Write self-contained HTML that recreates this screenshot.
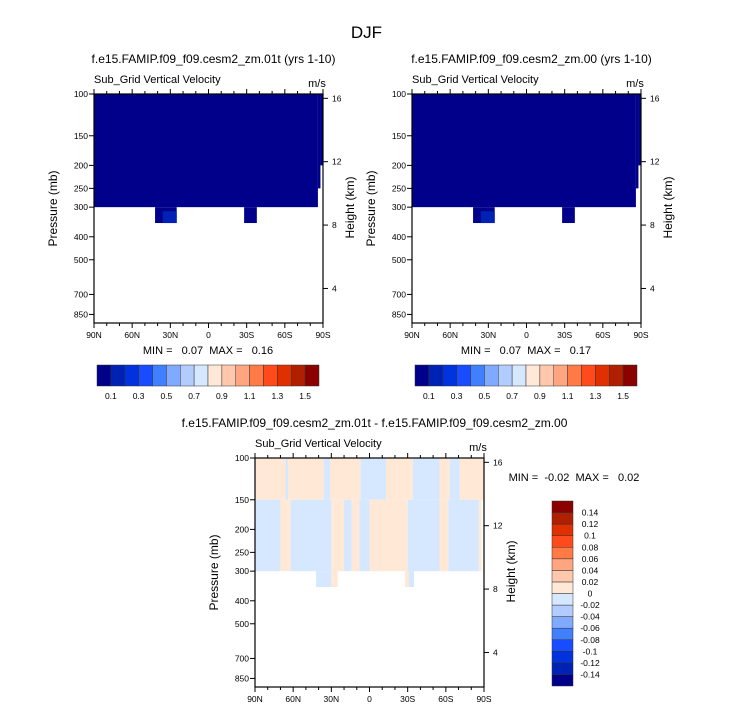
<!DOCTYPE html>
<html><head><meta charset="utf-8"><style>
html,body{margin:0;padding:0;background:#fff;}
svg{display:block;font-family:"Liberation Sans",sans-serif;}
svg text{white-space:pre;}
</style></head><body>
<svg id="fig" width="733" height="712" viewBox="0 0 733 712"></svg>
<script>
// ---- data ----
const latTicks = [90,60,30,0,-30,-60,-90];
const latLabels = ["90N","60N","30N","0","30S","60S","90S"];
const presTicks = [100,150,200,250,300,400,500,700,850];
const heightTicks = [16,12,8,4];
const cbColors = ["#00008b","#0022b4","#0033dd","#1a4cff","#4080ff","#80aaff","#b3ccff","#d6e8ff","#ffe8d6","#ffc8ad","#ffa57f","#ff7a45","#ff4a1c","#e03000","#b02000","#8b0000"];
const cbLabels1 = ["0.1","0.3","0.5","0.7","0.9","1.1","1.3","1.5"];
const cbLabelsDiff = ["-0.14","-0.12","-0.1","-0.08","-0.06","-0.04","-0.02","0","0.02","0.04","0.06","0.08","0.1","0.12","0.14"];
// panel fields: [latStart, latEnd, pTop, pBottom, colorIndex]
const field1 = [[90,-86,100,300,0],[-86,-88,100,250,0],[-88,-90,100,200,0],[42,25,300,350,0],[36,25,312,350,1],[-28,-38,300,350,0]];
const field2 = [[90,-86,100,300,0],[-86,-88,100,250,0],[-88,-90,100,200,0],[42,25,300,350,0],[36,25,312,350,1],[-28,-38,300,350,0]];
// diff: upper layer 100-150, lower layer 150-300 ; sign +1 peach, -1 blue
const diffUpper = [[90,66,1],[66,64,-1],[64,36,1],[36,31,-1],[31,7,1],[7,-13,-1],[-13,-34,1],[-34,-55,-1],[-55,-63,1],[-63,-71,-1],[-71,-90,1]];
const diffLower = [[90,70,-1],[70,62,1],[62,30,-1],[30,20,1],[20,14,-1],[14,8,1],[8,0,-1],[0,-30,1],[-30,-55,-1],[-55,-62,1],[-62,-86,-1],[-86,-88,1]];
const diffBelow = [[42,30,350,-1],[30,25,350,1],[-28,-31,350,1],[-31,-35,350,-1]];
const minmax = [["0.07","0.16"],["0.07","0.17"],["-0.02","0.02"]];

const NS="http://www.w3.org/2000/svg";
const svg=document.getElementById('fig');
function el(tag,attrs,parent){const e=document.createElementNS(NS,tag);for(const k in attrs)e.setAttribute(k,attrs[k]);(parent||svg).appendChild(e);return e;}
function txt(x,y,s,size,anchor,parent,extra){const t=el('text',Object.assign({x:x,y:y,'font-size':size,'text-anchor':anchor||'start',fill:'#000'},extra||{}),parent);t.textContent=s;return t;}

function panel(ox,oy,name,title){
  const W=229,H=229,k=103;
  const g=el('g',{});
  
  
  const xs=lat=>ox+(90-lat)/180*W;
  const ys=p=>oy+k*Math.log(p/100);
  txt(ox+W/2+5,oy-31,title,12,'middle',g);
  txt(ox,oy-11,"Sub_Grid Vertical Velocity",11,'start',g);
  txt(ox+W-6,oy-7,"m/s",11,'middle',g);
  return {g,xs,ys,ox,oy,W,H};
}
function axes(P){
  const {g,xs,ys,ox,oy,W,H}=P;
  el('rect',{x:ox,y:oy,width:W,height:H,fill:'none',stroke:'#000','stroke-width':1.2},g);
  latTicks.forEach((l,i)=>{const x=xs(l);
    el('line',{x1:x,y1:oy+H,x2:x,y2:oy+H+5,stroke:'#000'},g);
    el('line',{x1:x,y1:oy,x2:x,y2:oy-5,stroke:'#000'},g);
    const t=txt(x,oy+H+15,latLabels[i],8.5,'middle',g);});
  for(let l=90;l>=-90;l-=10){if(l%30){const x=xs(l);el('line',{x1:x,y1:oy+H,x2:x,y2:oy+H+3,stroke:'#000'},g);el('line',{x1:x,y1:oy,x2:x,y2:oy-3,stroke:'#000'},g);}}
  presTicks.forEach(p=>{const y=ys(p);el('line',{x1:ox-5,y1:y,x2:ox,y2:y,stroke:'#000'},g);
    const t=txt(ox-6,y+3,String(p),8.5,'end',g);});
  const Hs=6.5,p8=357;
  heightTicks.forEach(z=>{const p=p8*Math.exp((8-z)/Hs);const y=ys(p);
    el('line',{x1:ox+W,y1:y,x2:ox+W+5,y2:y,stroke:'#000'},g);
    const t=txt(ox+W+9,y+3,String(z),8.5,'start',g);});
  const yl=txt(0,0,"Pressure (mb)",12,'middle',g,{transform:`translate(${ox-37},${oy+H/2}) rotate(-90)`});
  
  const yr=txt(0,0,"Height (km)",12,'middle',g,{transform:`translate(${ox+W+31},${oy+H/2-1}) rotate(-90)`});
  
}
function fillField(P,field){
  field.forEach(f=>{const r=el('rect',{x:P.xs(f[0]),y:P.ys(f[2]),width:P.xs(f[1])-P.xs(f[0]),height:P.ys(f[3])-P.ys(f[2]),fill:cbColors[f[4]]},P.g);
    });
}
function hbar(x,y,labels,name){
  const g=el('g',{});
  const w=222/16;
  cbColors.forEach((c,i)=>{el('rect',{x:x+i*w,y:y,width:w,height:21,fill:c,stroke:'#333','stroke-width':0.5},g);});
  labels.forEach((s,i)=>{txt(x+(2*i+1)*w,y+34,s,8.5,'middle',g);});
}
txt(366.5,38,"DJF",17,'middle');

const P1=panel(94,94,'panel-model-01t',"f.e15.FAMIP.f09_f09.cesm2_zm.01t (yrs 1-10)");
fillField(P1,field1);axes(P1);
txt(208,354,"MIN =   "+minmax[0][0]+"  MAX =   "+minmax[0][1],11,'middle',P1.g);
hbar(97,365,cbLabels1,'colorbar-1');

const P2=panel(412,94,'panel-model-00',"f.e15.FAMIP.f09_f09.cesm2_zm.00 (yrs 1-10)");
fillField(P2,field2);axes(P2);
txt(526,354,"MIN =   "+minmax[1][0]+"  MAX =   "+minmax[1][1],11,'middle',P2.g);
hbar(415,365,cbLabels1,'colorbar-2');

const P3=panel(255,458,'panel-difference',"f.e15.FAMIP.f09_f09.cesm2_zm.01t - f.e15.FAMIP.f09_f09.cesm2_zm.00");
const PE="#ffe8d6",BL="#d6e8ff";
diffUpper.forEach(d=>{el('rect',{x:P3.xs(d[0]),y:P3.ys(100),width:P3.xs(d[1])-P3.xs(d[0]),height:P3.ys(150)-P3.ys(100),fill:d[2]>0?PE:BL},P3.g);});
diffLower.forEach(d=>{el('rect',{x:P3.xs(d[0]),y:P3.ys(150),width:P3.xs(d[1])-P3.xs(d[0]),height:P3.ys(300)-P3.ys(150),fill:d[2]>0?PE:BL},P3.g);});
diffBelow.forEach(d=>{el('rect',{x:P3.xs(d[0]),y:P3.ys(300),width:P3.xs(d[1])-P3.xs(d[0]),height:P3.ys(d[2])-P3.ys(300),fill:d[3]>0?PE:BL},P3.g);});
axes(P3);
txt(574,481,"MIN =  "+minmax[2][0]+"  MAX =   "+minmax[2][1],11,'middle',P3.g);
const vg=el('g',{});
const vh=185/16;
cbColors.forEach((c,i)=>{el('rect',{x:552,y:501+(15-i)*vh,width:21,height:vh,fill:c,stroke:'#333','stroke-width':0.5},vg);});
cbLabelsDiff.forEach((s,i)=>{txt(590,501+(15-i)*vh+3,s,8.5,'middle',vg);});
</script>
</body></html>
